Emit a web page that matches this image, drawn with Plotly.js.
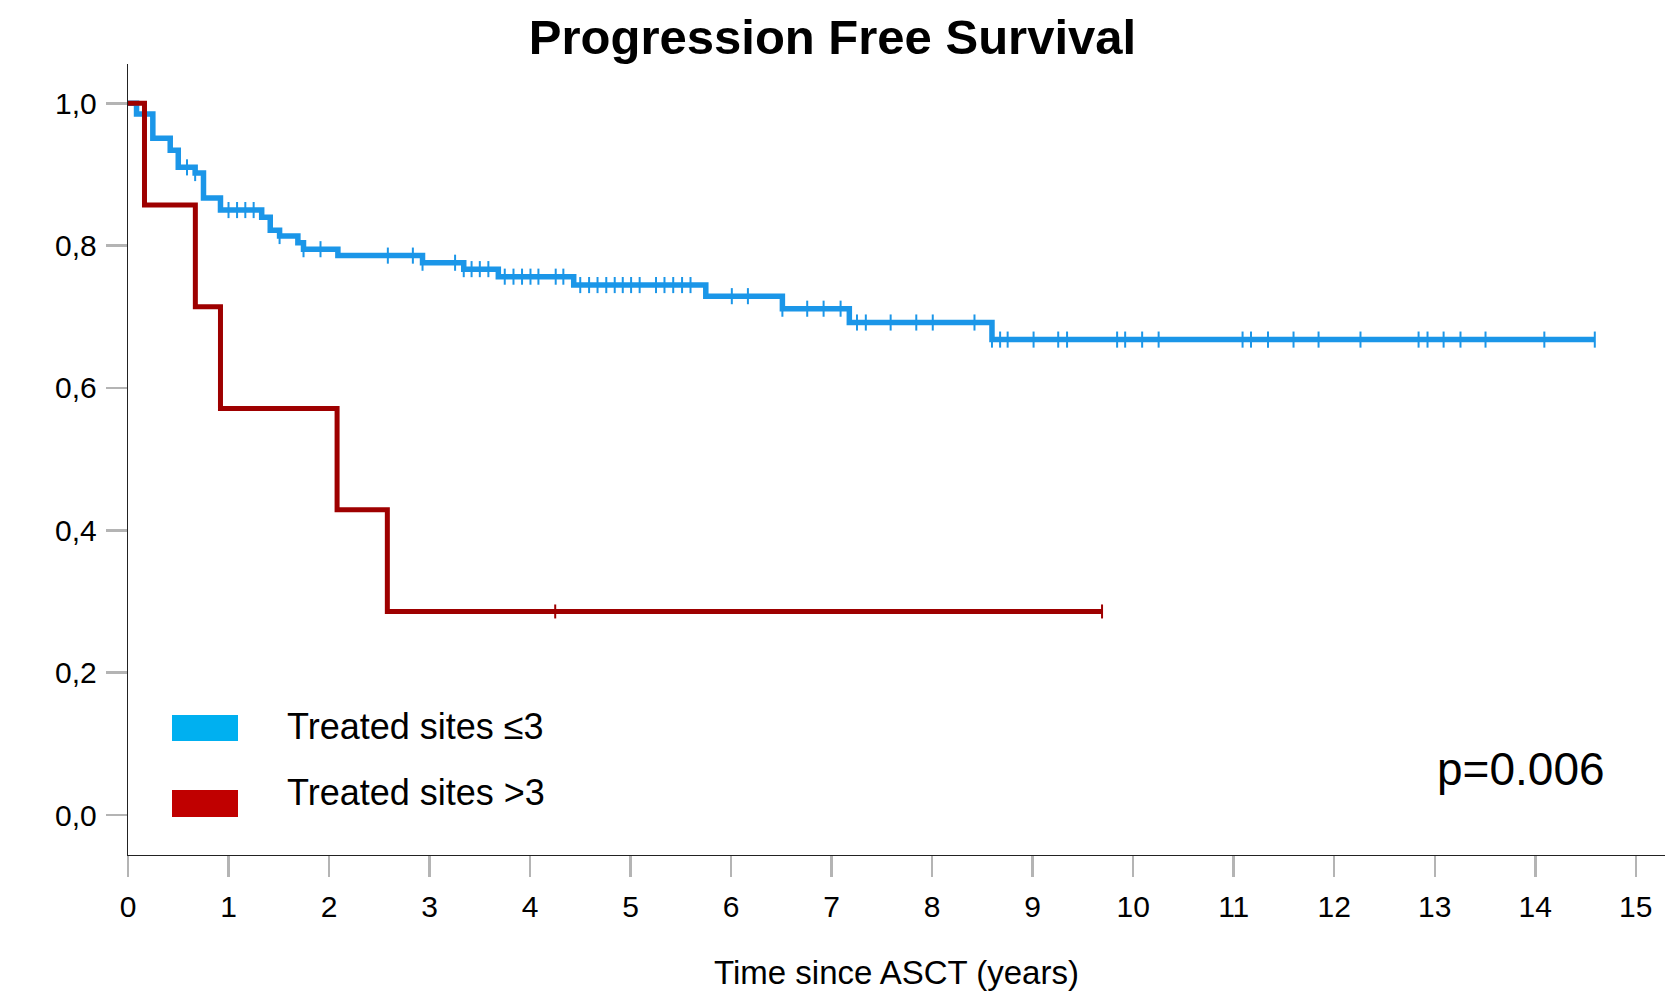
<!DOCTYPE html>
<html>
<head>
<meta charset="utf-8">
<script src="https://cdn.plot.ly/plotly-3.0.1.min.js"></script>
<style>html,body{margin:0;padding:0;background:#fff;}#chart{width:1665px;height:991px;}</style>
</head>
<body>
<div id="chart"></div>
<script>
// ---- data ----
const blueTimes = [0.085, 0.247, 0.42, 0.50, 0.668, 0.751, 0.92, 1.33, 1.415, 1.508, 1.69, 1.746, 2.088, 2.93, 3.34, 3.684, 4.434, 5.748, 6.51, 7.176, 8.595];
const blueSurv  = [0.985, 0.951, 0.934, 0.910, 0.902, 0.867, 0.850, 0.840, 0.8215, 0.8135, 0.804, 0.795, 0.786, 0.776, 0.767, 0.7564, 0.7446, 0.729, 0.7114, 0.692, 0.668];
const blueCensor = [0.587, 0.668, 1.0, 1.085, 1.167, 1.25, 1.508, 1.746, 1.915, 2.585, 2.834, 2.93, 3.254, 3.34, 3.418, 3.5, 3.585,
  3.748, 3.835, 3.92, 4.004, 4.083, 4.255, 4.331, 4.499, 4.587, 4.671, 4.758, 4.842, 4.922, 5.005, 5.09, 5.253, 5.337, 5.424, 5.512, 5.596,
  6.007, 6.167, 6.51, 6.757, 6.92, 7.089, 7.252, 7.34, 7.587, 7.842, 8.006, 8.421, 8.595, 8.676, 8.751, 9.009, 9.254, 9.342, 9.84, 9.92,
  10.089, 10.253, 11.088, 11.172, 11.341, 11.595, 11.844, 12.261, 12.839, 12.928, 13.088, 13.256, 13.505, 14.09, 14.592];

const redTimes = [0.164, 0.67, 0.92, 2.08, 2.58];
const redSurv  = [0.857, 0.714, 0.571, 0.429, 0.286];
const redCensor = [4.25, 9.69];

const seriesNames = ["Treated sites \u22643", "Treated sites >3"];
const yTickVals = [0, 0.2, 0.4, 0.6, 0.8, 1.0];
const yTickText = ["0,0", "0,2", "0,4", "0,6", "0,8", "1,0"];
const xTickVals = [0,1,2,3,4,5,6,7,8,9,10,11,12,13,14,15];
const titleText = "Progression Free Survival";
const xTitleText = "Time since ASCT (years)";
const pText = "p=0.006";

// ---- helpers ----
function survAt(times, surv, t) {
  let s = 1;
  for (let i = 0; i < times.length; i++) { if (t >= times[i] - 1e-9) s = surv[i]; }
  return s;
}
function stepCurve(times, surv, censor) {
  const endT = Math.max(times[times.length-1], censor[censor.length-1]);
  const x = [0].concat(times, [endT]);
  const y = [1].concat(surv, [surv[surv.length-1]]);
  return {x, y};
}

const BLUE = "rgb(27,150,232)";
const RED = "rgb(158,0,0)";
const FONT = "Liberation Sans, Arial, Helvetica, sans-serif";

const bStep = stepCurve(blueTimes, blueSurv, blueCensor);
const rStep = stepCurve(redTimes, redSurv, redCensor);

const traces = [
  {x: bStep.x, y: bStep.y, mode: "lines", line: {shape: "hv", color: BLUE, width: 5.5}, name: seriesNames[0], showlegend: false, hoverinfo: "skip"},
  {x: blueCensor, y: blueCensor.map(t => survAt(blueTimes, blueSurv, t)), mode: "markers",
   marker: {symbol: "line-ns", size: 11.5, color: BLUE, line: {color: BLUE, width: 2}}, showlegend: false, hoverinfo: "skip"},
  {x: rStep.x, y: rStep.y, mode: "lines", line: {shape: "hv", color: RED, width: 5}, name: seriesNames[1], showlegend: false, hoverinfo: "skip"},
  {x: redCensor, y: redCensor.map(t => survAt(redTimes, redSurv, t)), mode: "markers",
   marker: {symbol: "line-ns", size: 10, color: RED, line: {color: RED, width: 2}}, showlegend: false, hoverinfo: "skip"}
];

// pixel -> paper helpers
const W = 1665, H = 991, ML = 128, MR = 0, MT = 64, MB = 136;
const PW = W - ML - MR, PH = H - MT - MB;
const px = v => (v - ML) / PW;
const py = v => (H - MB - v) / PH;

const layout = {
  width: W, height: H,
  margin: {l: ML, r: MR, t: MT, b: MB, pad: 0},
  paper_bgcolor: "#fff", plot_bgcolor: "#fff",
  font: {family: FONT, color: "#000"},
  showlegend: false,
  hovermode: false,
  title: {text: "<b>" + titleText + "</b>", font: {size: 49, family: FONT, color: "#000"},
          xref: "container", x: 0.5, xanchor: "center", yref: "container", y: 1 - 20/H, yanchor: "top"},
  xaxis: {
    range: [0, PW / 100.52], tickvals: xTickVals, ticktext: xTickVals.map(String),
    showgrid: false, zeroline: false, showline: true, linecolor: "#222", linewidth: 1.3,
    ticks: "outside", ticklen: 21, tickwidth: 2.5, tickcolor: "#b4b4b4", ticklabelstandoff: 4,
    tickfont: {size: 30, family: FONT, color: "#000"},
    title: {text: xTitleText, font: {size: 33, family: FONT, color: "#000"}, standoff: 43},
    automargin: false, fixedrange: true
  },
  yaxis: {
    range: [-0.0562, -0.0562 + PH / 711.7], tickvals: yTickVals, ticktext: yTickText,
    showgrid: false, zeroline: false, showline: true, linecolor: "#222", linewidth: 1.3,
    ticks: "outside", ticklen: 21, tickwidth: 2.5, tickcolor: "#b4b4b4", ticklabelstandoff: 3,
    tickfont: {size: 30, family: FONT, color: "#000"},
    automargin: false, fixedrange: true
  },
  shapes: [
    {type: "rect", xref: "paper", yref: "paper", x0: px(172), x1: px(238), y0: py(741), y1: py(715), fillcolor: "rgb(0,176,240)", line: {width: 0}},
    {type: "rect", xref: "paper", yref: "paper", x0: px(172), x1: px(238), y0: py(817), y1: py(790), fillcolor: "rgb(192,0,0)", line: {width: 0}}
  ],
  annotations: [
    {xref: "paper", yref: "paper", x: px(285), y: py(726), xanchor: "left", yanchor: "middle", showarrow: false,
     text: seriesNames[0], font: {size: 36, family: FONT, color: "#000"}},
    {xref: "paper", yref: "paper", x: px(285), y: py(792), xanchor: "left", yanchor: "middle", showarrow: false,
     text: seriesNames[1], font: {size: 36, family: FONT, color: "#000"}},
    {xref: "paper", yref: "paper", x: px(1435), y: py(769), xanchor: "left", yanchor: "middle", showarrow: false,
     text: pText, font: {size: 46, family: FONT, color: "#000"}}
  ]
};

Plotly.newPlot("chart", traces, layout, {displayModeBar: false, staticPlot: true});
</script>
</body>
</html>
